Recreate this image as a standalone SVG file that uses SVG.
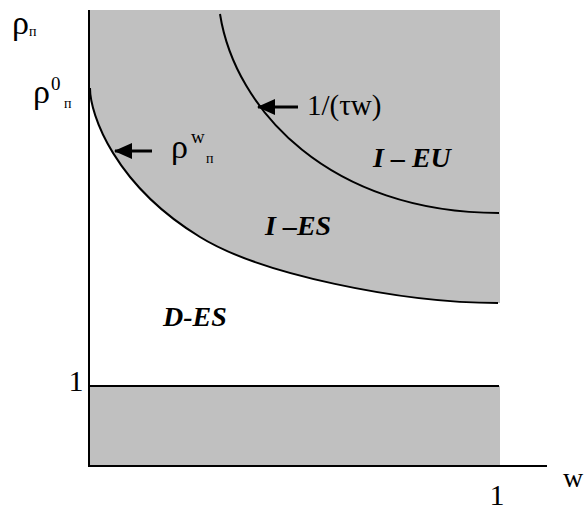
<svg xmlns="http://www.w3.org/2000/svg" width="587" height="510" viewBox="0 0 587 510">
<style>
  .ln{fill:none;stroke:#000;stroke-width:2}
  .t{font-family:"Liberation Serif","Times New Roman",serif;fill:#000}
  .bi{font-family:"Liberation Serif","Times New Roman",serif;font-weight:bold;font-style:italic;fill:#000}
</style>
<defs>
  <marker id="ah" markerWidth="10" markerHeight="10" refX="9" refY="5" orient="auto" markerUnits="userSpaceOnUse" viewBox="0 0 10 10">
    <path d="M0,0 L10,5 L0,10 Z" fill="#000"/>
  </marker>
  <marker id="ah2" markerWidth="18" markerHeight="16" refX="17" refY="8" orient="auto" markerUnits="userSpaceOnUse" viewBox="0 0 18 16">
    <path d="M0,0 L18,8 L0,16 Z" fill="#000"/>
  </marker>
</defs>
<g id="regions">
  <rect x="90" y="10" width="410" height="457" fill="#c0c0c0"/>
  <path d="M90,88 C90,115 115,185 200,237 C260,274 400,303 498,303 L500,303 L500,386 L90,386 Z" fill="#fff"/>
</g>
<g id="axes">
  <line class="ln" x1="89" y1="10" x2="89" y2="467"/>
  <line class="ln" x1="88" y1="466" x2="547" y2="466"/>
  <line class="ln" x1="89" y1="386" x2="499" y2="386"/>
</g>
<g id="curves">
  <path id="curve-rho-w" class="ln" d="M90,88 C90,115 115,185 200,237 C260,274 400,303 498,303"/>
  <path id="curve-1-tw" class="ln" d="M220,14 C235,110 330,213 499,213"/>
</g>
<g id="connectors">
  <line x1="152" y1="151" x2="115" y2="151" stroke="#000" stroke-width="3" marker-end="url(#ah2)"/>
  <line x1="298" y1="107" x2="258" y2="107" stroke="#000" stroke-width="3" marker-end="url(#ah2)"/>
</g>
<g id="labels">
  <text class="t" x="12" y="34" font-size="34">ρ<tspan font-size="14" dy="2">п</tspan></text>
  <text class="t" x="33" y="103" font-size="34">ρ</text>
  <text class="t" x="51" y="90" font-size="19">0</text>
  <text class="t" x="64" y="108" font-size="14">п</text>
  <text class="t" x="171" y="158" font-size="34">ρ</text>
  <text class="t" x="191" y="143" font-size="19">w</text>
  <text class="t" x="206" y="163" font-size="14">п</text>
  <text class="t" x="307" y="115" font-size="29">1/(τw)</text>
  <text class="bi" x="373" y="167" font-size="28">I – EU</text>
  <text class="bi" x="265" y="235" font-size="28">I –ES</text>
  <text class="bi" x="163" y="326" font-size="28">D-ES</text>
  <text class="t" x="76" y="391" font-size="30" text-anchor="middle">1</text>
  <text class="t" x="497" y="505" font-size="30" text-anchor="middle">1</text>
  <text class="t" x="563" y="487" font-size="28">w</text>
</g>
</svg>
